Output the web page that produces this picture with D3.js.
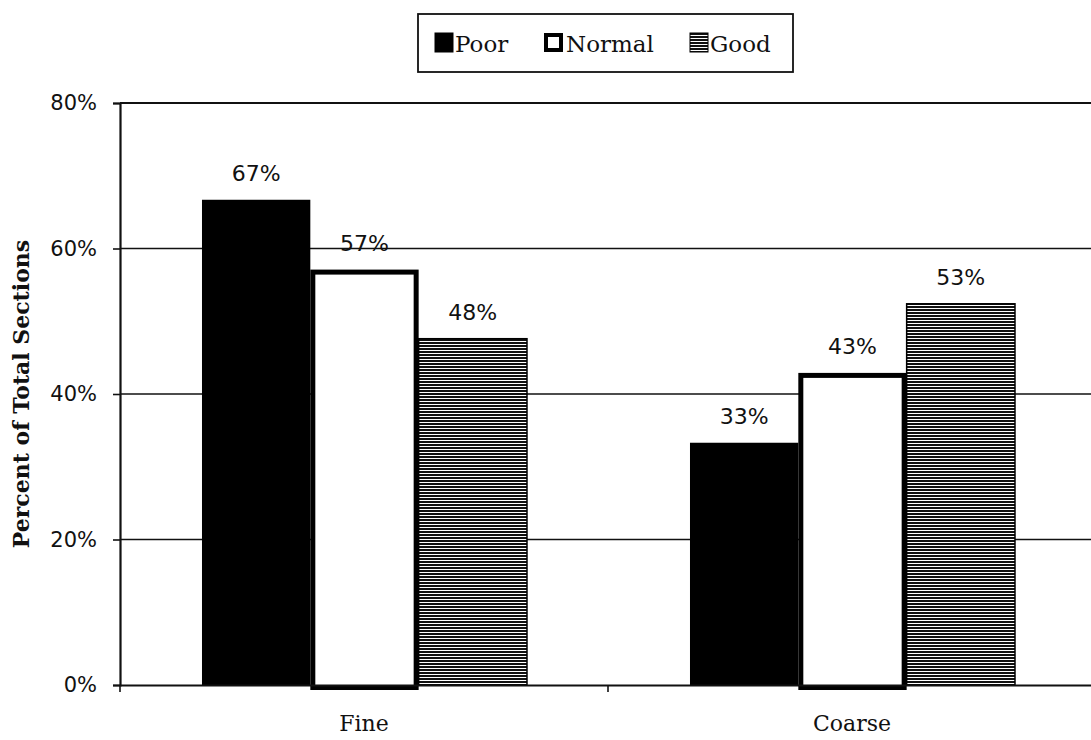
<!DOCTYPE html>
<html><head><meta charset="utf-8">
<script src="https://cdn.jsdelivr.net/npm/d3@7"></script>
<style>body{margin:0;background:#fff}</style>
</head><body>
<svg id="c" width="1091" height="740"></svg>
<script>
const categories = ["Fine", "Coarse"];
const seriesNames = ["Poor", "Normal", "Good"];
const poor = [66.7, 33.3];
const normal = [57.1, 42.9];
const good = [47.6, 52.4];
const labels = [["67%", "57%", "48%"], ["33%", "43%", "53%"]];
const yTicks = [0, 20, 40, 60, 80];

(function () {
const svg = d3.select("#c");
const defs = svg.append("defs");
const pat = defs.append("pattern").attr("id", "stripe").attr("patternUnits", "userSpaceOnUse")
  .attr("width", 8).attr("height", 3);
pat.append("rect").attr("width", 8).attr("height", 3).attr("fill", "#fff");
pat.append("rect").attr("width", 8).attr("height", 2).attr("fill", "#111");

const pLeft = 120, pRight = 1096, pTop = 103, pBottom = 685;
const y = d3.scaleLinear().domain([0, 80]).range([pBottom, pTop]);
const x0 = d3.scaleBand().domain(categories).range([pLeft, pRight]);
const bw = x0.bandwidth();
const x1 = d3.scaleBand().domain(seriesNames).range([bw * 0.168, bw * 0.834]);

const serif = "'DejaVu Serif', 'Liberation Serif', serif";
const sans = "'DejaVu Sans', Verdana, sans-serif";

// gridlines
svg.append("g").selectAll("line").data(yTicks.filter(d => d > 0)).join("line")
  .attr("x1", pLeft).attr("x2", 1091).attr("y1", d => y(d)).attr("y2", d => y(d))
  .attr("stroke", "#111").attr("stroke-width", d => d === 80 ? 2.2 : 1.4);

// y axis
const ya = svg.append("g").attr("transform", `translate(${pLeft},0)`)
  .call(d3.axisLeft(y).tickValues(yTicks).tickFormat(d => d + "%").tickSize(7).tickPadding(16));
ya.select(".domain").attr("stroke", "#111").attr("stroke-width", 2.2);
ya.selectAll(".tick line").attr("stroke", "#111").attr("stroke-width", 1.6);
ya.selectAll(".tick text").attr("font-family", sans).attr("font-size", 21).attr("fill", "#111");

const vals = { Poor: poor, Normal: normal, Good: good };
const data = [];
categories.forEach((c, i) => seriesNames.forEach((s, j) => data.push({ c, s, v: vals[s][i], lab: labels[i][j] })));

const g = svg.append("g");
g.selectAll("rect").data(data).join("rect")
  .attr("x", d => x0(d.c) + x1(d.s) + (d.s === "Normal" ? 2.5 : 0))
  .attr("width", d => x1.bandwidth() - (d.s === "Normal" ? 5 : 0))
  .attr("y", d => y(d.v) + (d.s === "Normal" ? 2.5 : 0))
  .attr("height", d => pBottom - y(d.v))
  .attr("fill", d => d.s === "Poor" ? "#000" : d.s === "Normal" ? "#fff" : "url(#stripe)")
  .attr("stroke", d => d.s === "Poor" ? "none" : "#000")
  .attr("stroke-width", d => d.s === "Normal" ? 5 : 1.5);

g.selectAll("text").data(data).join("text")
  .attr("x", d => x0(d.c) + x1(d.s) + x1.bandwidth() / 2)
  .attr("y", d => y(d.v) - 19)
  .attr("text-anchor", "middle")
  .attr("font-family", sans).attr("font-size", 22).attr("fill", "#111")
  .text(d => d.lab);

// x axis
const xa = svg.append("g").attr("transform", `translate(0,${pBottom})`)
  .call(d3.axisBottom(x0).tickSize(0).tickPadding(30));
xa.select(".domain").attr("stroke", "#111").attr("stroke-width", 2.2);
xa.selectAll(".tick text").attr("font-family", serif).attr("font-size", 22).attr("fill", "#111");
svg.append("g").selectAll("line").data([pLeft, pLeft + bw]).join("line")
  .attr("x1", d => d).attr("x2", d => d).attr("y1", pBottom).attr("y2", pBottom + 7)
  .attr("stroke", "#111").attr("stroke-width", 1.6);

// y title
svg.append("text").attr("transform", `translate(29,394) rotate(-90)`)
  .attr("text-anchor", "middle").attr("font-family", serif).attr("font-weight", "bold")
  .attr("font-size", 22).attr("fill", "#111").text("Percent of Total Sections");

// legend
const lg = svg.append("g");
lg.append("rect").attr("x", 418).attr("y", 14).attr("width", 375).attr("height", 58)
  .attr("fill", "#fff").attr("stroke", "#111").attr("stroke-width", 1.8);
const legX = [435, 544, 690];
const textX = [455, 566, 710];
seriesNames.forEach((s, i) => {
  if (s === "Normal") {
    lg.append("rect").attr("x", legX[i] + 2).attr("y", 35).attr("width", 15).attr("height", 15)
      .attr("fill", "#fff").attr("stroke", "#000").attr("stroke-width", 4);
  } else {
    lg.append("rect").attr("x", legX[i]).attr("y", 33).attr("width", 18).attr("height", 19)
      .attr("fill", s === "Poor" ? "#000" : "url(#stripe)").attr("stroke", "#000").attr("stroke-width", 1);
  }
  lg.append("text").attr("x", textX[i]).attr("y", 52).attr("font-family", serif)
    .attr("font-size", 23).attr("fill", "#111").text(s);
});
})();
</script>
</body></html>
